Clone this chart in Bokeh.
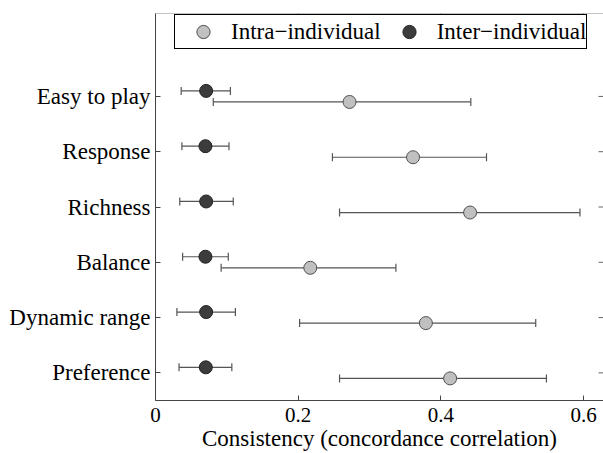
import math
from bokeh.plotting import figure
from bokeh.models import (ColumnDataSource, Whisker, TeeHead, FixedTicker, Range1d)
from bokeh.embed import file_html
from bokeh.resources import INLINE

# ---- data (bottom to top) ----
categories = ["Preference", "Dynamic range", "Balance", "Richness", "Response", "Easy to play"]
intra_mean = [0.413, 0.379, 0.217, 0.441, 0.361, 0.272]
intra_low = [0.258, 0.202, 0.092, 0.258, 0.248, 0.081]
intra_high = [0.548, 0.533, 0.337, 0.595, 0.464, 0.442]
inter_mean = [0.0705, 0.071, 0.070, 0.071, 0.070, 0.071]
inter_low = [0.033, 0.030, 0.038, 0.034, 0.037, 0.036]
inter_high = [0.107, 0.112, 0.102, 0.109, 0.103, 0.105]
x_ticks = [0, 0.2, 0.4, 0.6]
x_tick_labels = ["0", "0.2", "0.4", "0.6"]
series_names = ["Intra\u2212individual", "Inter\u2212individual"]

FONT = "Liberation Serif"
positions = list(range(1, len(categories) + 1))
offset = 0.1
X_END = 0.628
Y_START, Y_END = 0.5, 7.5

src_intra = ColumnDataSource(dict(y=[p_ - offset for p_ in positions], m=intra_mean,
                                  lo=intra_low, hi=intra_high))
src_inter = ColumnDataSource(dict(y=[p_ + offset for p_ in positions], m=inter_mean,
                                  lo=inter_low, hi=inter_high))

p = figure(width=603, height=453, output_backend="svg", toolbar_location=None,
           x_range=Range1d(0, X_END), y_range=Range1d(Y_START, Y_END),
           min_border_left=155, min_border_right=0, min_border_top=13, min_border_bottom=50)
p.grid.visible = False
p.outline_line_color = None
p.background_fill_color = "white"

bar_col = "#555555"
for src in (src_intra, src_inter):
    w = Whisker(source=src, base="y", lower="lo", upper="hi", dimension="width",
                line_color=bar_col, line_width=1.2, level="underlay",
                upper_head=TeeHead(size=8, line_color=bar_col, line_width=1.2),
                lower_head=TeeHead(size=8, line_color=bar_col, line_width=1.2))
    p.add_layout(w)

# top frame line and inward ticks on top / right edges
p.segment(x0=[0], y0=[Y_END], x1=[X_END], y1=[Y_END], line_color="#888888", line_width=1.2)
p.scatter(x=x_ticks, y=[Y_END] * len(x_ticks), marker="dash", angle=math.pi / 2, size=10,
          line_color="#666666", line_width=1)
p.scatter(x=[X_END] * len(positions), y=positions, marker="dash", size=10,
          line_color="#666666", line_width=1)

p.scatter("m", "y", source=src_intra, size=13, fill_color="#c0c0c0",
          line_color="#505050", line_width=1, legend_label=series_names[0])
p.scatter("m", "y", source=src_inter, size=13, fill_color="#3c3c3c",
          line_color="#222222", line_width=1, legend_label=series_names[1])

# axes
ax = p.xaxis[0]
ax.ticker = FixedTicker(ticks=x_ticks)
ax.major_label_overrides = {t: l for t, l in zip(x_ticks, x_tick_labels)}
ax.axis_label = "Consistency (concordance correlation)"
ax.axis_label_text_font = FONT
ax.axis_label_text_font_size = "23px"
ax.axis_label_text_font_style = "normal"
ax.axis_label_text_color = "black"
ax.axis_label_standoff = 1
ax.major_label_text_font = FONT
ax.major_label_text_font_size = "21px"
ax.major_label_text_color = "black"
ax.major_label_standoff = 7

ay = p.yaxis[0]
ay.ticker = FixedTicker(ticks=positions)
ay.major_label_overrides = {pos: c for pos, c in zip(positions, categories)}
ay.major_label_text_font = FONT
ay.major_label_text_font_size = "23px"
ay.major_label_text_color = "black"
ay.major_label_standoff = 5

for a in (ax, ay):
    a.axis_line_color = "#444444"
    a.major_tick_line_color = "#444444"
    a.major_tick_in = 5
    a.major_tick_out = 0
    a.minor_tick_line_color = None

lg = p.legend[0]
lg.orientation = "horizontal"
lg.location = (19, 351)
lg.border_line_color = "black"
lg.border_line_width = 1
lg.border_line_alpha = 1
lg.background_fill_alpha = 1
lg.label_text_font = FONT
lg.label_text_font_size = "23px"
lg.label_text_color = "black"
lg.padding = 0
lg.glyph_width = 56
lg.glyph_height = 33
lg.label_height = 33
lg.label_standoff = 0
lg.spacing = 0
lg.margin = 0

open("out.html", "w").write(file_html(p, INLINE))
